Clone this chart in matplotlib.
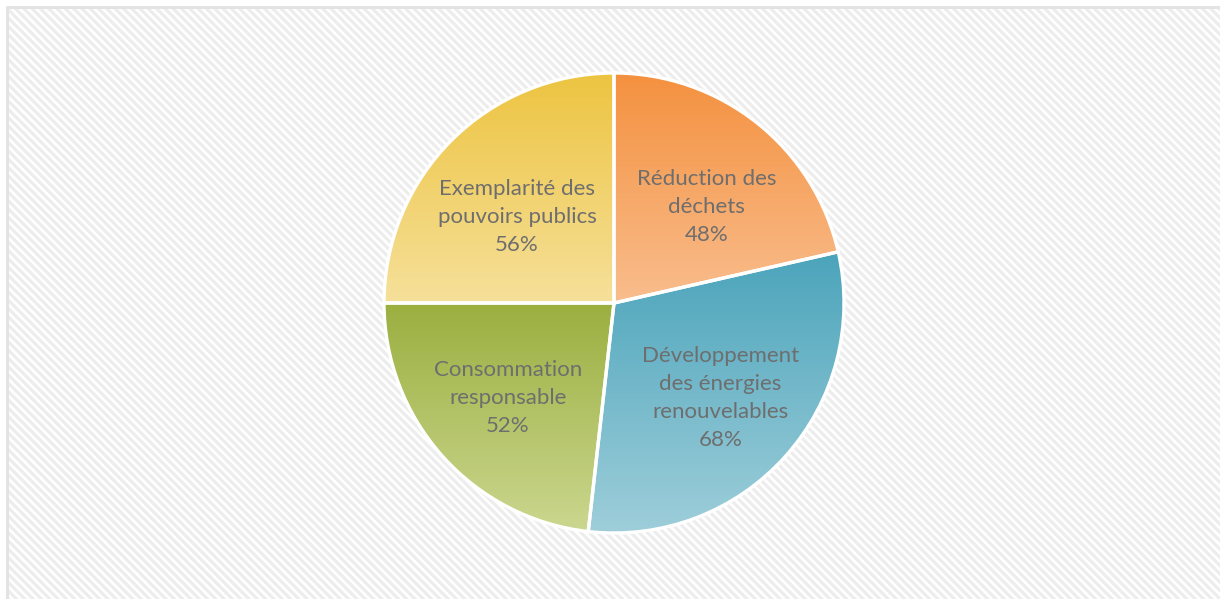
import matplotlib.pyplot as plt
import matplotlib.colors as mcolors
import numpy as np
from matplotlib.collections import LineCollection

names = ["Réduction des\ndéchets", "Développement\ndes énergies\nrenouvelables",
         "Consommation\nresponsable", "Exemplarité des\npouvoirs publics"]
values = [48, 68, 52, 56]
top_colors = ["#F4913F", "#4BA4BB", "#9BAF40", "#EDC441"]
bottom_colors = ["#F9BD8D", "#9ECEDA", "#CBD78F", "#F6E09A"]

W, H = 1220, 599

fig = plt.figure(figsize=(W / 100, H / 100), dpi=100)
ax = fig.add_axes([0, 0, 1, 1])

cx, cy, r = 614, H - 303, 230
labels = [f"{n}\n{v}%" for n, v in zip(names, values)]
wedges, texts = ax.pie(values, labels=labels, startangle=90, counterclock=False,
                       center=(cx, cy), radius=r, labeldistance=0.62,
                       wedgeprops=dict(edgecolor="white", linewidth=2.4, facecolor="none"),
                       textprops=dict(family="Lato", fontsize=16, color="#6E6E6E"))
ax.set_xlim(0, W)
ax.set_ylim(0, H)
ax.set_aspect("equal")
ax.axis("off")

# diagonal stripes inside the frame (top/left border only)
x0, ytop = 7, H - 7
segs = []
for c in np.arange(x0 - H, W + H, 8.3):
    # line y = ytop - (x - c), clipped to x >= x0, y <= ytop
    xa = max(c, x0)
    segs.append([(xa, ytop - (xa - c)), (xa + H + 20, ytop - (xa + H + 20 - c))])
stripes = LineCollection(segs, colors="#EDEDED", linewidths=2.3, zorder=0)
clip = plt.Rectangle((x0, -20), W + 20, ytop + 20, transform=ax.transData)
ax.add_collection(stripes)
stripes.set_clip_path(clip)
ax.plot([x0, x0, W + 20], [-20, ytop, ytop], color="#E3E3E3", lw=2.2, zorder=1,
        clip_on=False)

for w, c0, c1 in zip(wedges, top_colors, bottom_colors):
    bb = w.get_path().get_extents()
    cmap = mcolors.LinearSegmentedColormap.from_list("g", [c1, c0])
    grad = np.linspace(0, 1, 256).reshape(-1, 1)
    im = ax.imshow(grad, cmap=cmap, origin="lower", aspect="auto",
                   extent=(bb.x0, bb.x1, bb.y0, bb.y1), zorder=1.5, interpolation="bilinear")
    im.set_clip_path(w)
    w.set_zorder(2)

for t in texts:
    x, y = t.get_position()
    if y > cy:
        t.set_position((x + 4, y - 15))
    t.set_horizontalalignment("center")
    t.set_verticalalignment("center")
    t.set_linespacing(1.5)
    t.set_zorder(3)

ax.set_xlim(0, W)
ax.set_ylim(0, H)
fig.savefig("out.png", dpi=100)
